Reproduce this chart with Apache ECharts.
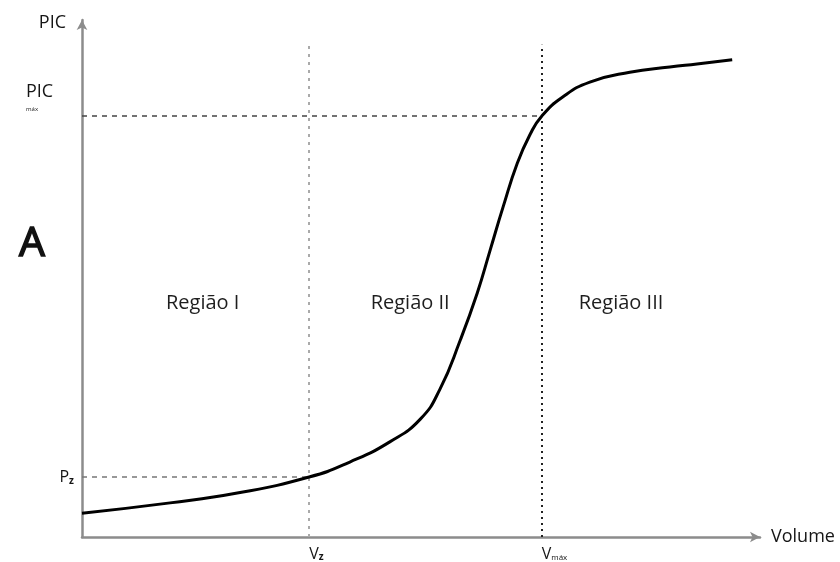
<!DOCTYPE html>
<html>
<head>
<meta charset="utf-8">
<script src="https://cdn.jsdelivr.net/npm/echarts@6/dist/echarts.min.js"></script>
<style>
  html, body { margin: 0; padding: 0; background: #fff; }
  #chart { width: 840px; height: 562px; }
</style>
</head>
<body>
<div id="chart"></div>
<script>
// Pressure-volume curve (PIC vs Volume), three regions
const volume = [0, 13.0, 22.9, 33.5, 39.5, 45.4, 49.9, 52.8, 55.8, 58.3, 60.2, 62.1, 64.2, 66.1, 67.8, 70.9, 74.9, 80.8, 86.7, 90.7, 95.9];
const pic    = [4.6, 6.6, 8.5, 11.6, 14.5, 18.4, 22.8, 28.6, 38.1, 47.2, 55.5, 63.8, 72.3, 77.9, 81.4, 85.1, 88.0, 89.9, 90.9, 91.5, 92.3];

// reference marks
const vZ = 33.5, vMax = 67.8;
const pZ = 11.6, picMax = 81.4;
const guideTop = 95.2;

// region captions
const regionNames = ['Região I', 'Região II', 'Região III'];
const regionX = [17.8, 48.4, 79.5];
const regionY = 45.3;

const FONT = '"Open Sans", "Liberation Sans", sans-serif';
const INK = '#151515';

const chart = echarts.init(document.getElementById('chart'));
chart.setOption({
  animation: false,
  backgroundColor: '#fff',
  title: {
    text: 'A', left: 14, top: 219,
    textStyle: { fontSize: 41, fontWeight: 'normal', color: '#111', fontFamily: FONT,
      textBorderColor: '#111', textBorderWidth: 1.5 }
  },
  grid: { left: 82, right: 80, top: 20, bottom: 25, containLabel: false },
  xAxis: {
    type: 'value', min: 0, max: 100,
    name: 'Volume', nameLocation: 'end', nameGap: 11,
    nameTextStyle: { fontSize: 18, color: INK, fontFamily: FONT },
    axisLine: { show: true, symbol: ['none', 'arrow'], symbolSize: [8, 10],
      lineStyle: { color: '#8c8c8c', width: 2.5 } },
    axisTick: { show: false },
    splitLine: { show: false },
    axisLabel: {
      customValues: [vZ, vMax], margin: 9, align: 'left',
      fontFamily: FONT, color: INK,
      formatter: v => v === vZ ? '{m|V}{s|z}' : '{m|V}{t|máx}',
      rich: {
        m: { fontSize: 16, color: INK, fontFamily: FONT },
        s: { fontSize: 10, color: INK, fontFamily: FONT, verticalAlign: 'bottom', fontWeight: 'bold' },
        t: { fontSize: 8, color: INK, fontFamily: FONT, verticalAlign: 'bottom' }
      }
    }
  },
  yAxis: {
    type: 'value', min: 0, max: 100,
    name: 'PIC', nameLocation: 'end', nameGap: -3,
    nameTextStyle: { fontSize: 18, color: INK, fontFamily: FONT, align: 'right', verticalAlign: 'middle', padding: [0, 16, 0, 0] },
    axisLine: { show: true, symbol: ['none', 'arrow'], symbolSize: [8, 10],
      lineStyle: { color: '#8c8c8c', width: 2.5 } },
    axisTick: { show: false },
    splitLine: { show: false },
    axisLabel: {
      customValues: [pZ, picMax], margin: 8,
      fontFamily: FONT, color: INK,
      formatter: v => v === pZ ? '{p|P}{z|z}' : '{a|PIC}\n{b|máx}\n{c| }',
      verticalAlign: 'middle',
      rich: {
        p: { fontSize: 16, color: INK, fontFamily: FONT, lineHeight: 18 },
        z: { fontSize: 10, color: INK, fontFamily: FONT, fontWeight: 'bold', verticalAlign: 'bottom', lineHeight: 18 },
        a: { fontSize: 18, color: INK, fontFamily: FONT, lineHeight: 26, width: 34, align: 'left', padding: [0, 14, 0, 0] },
        b: { fontSize: 6, color: INK, fontFamily: FONT, lineHeight: 8, width: 34, align: 'left', padding: [0, 14, 0, 0] },
        c: { fontSize: 6, lineHeight: 40 }
      }
    }
  },
  series: [
    {
      type: 'line',
      data: volume.map((v, i) => [v, pic[i]]),
      smooth: 0.5,
      symbol: 'none',
      lineStyle: { color: '#000', width: 3 },
      z: 5,
      markLine: {
        silent: true, symbol: ['none', 'none'], animation: false,
        label: { show: false },
        data: [
          [{ coord: [0, picMax], lineStyle: { color: '#444', width: 1.5, type: [5, 5] } }, { coord: [vMax, picMax] }],
          [{ coord: [0, pZ], lineStyle: { color: '#777', width: 1.5, type: [5, 5] } }, { coord: [vZ, pZ] }],
          [{ coord: [vZ, 0], lineStyle: { color: '#aaa', width: 2, type: [3, 5] } }, { coord: [vZ, guideTop] }],
          [{ coord: [vMax, 0], lineStyle: { color: '#222', width: 2, type: [2, 4] } }, { coord: [vMax, guideTop] }]
        ]
      }
    },
    {
      type: 'scatter',
      symbolSize: 0,
      silent: true,
      itemStyle: { opacity: 1 },
      data: regionNames.map((n, i) => ({ value: [regionX[i], regionY], name: n })),
      label: {
        show: true, position: 'inside', formatter: p => p.name,
        fontSize: 20, color: '#1e1e1e', opacity: 1, textBorderWidth: 0, fontFamily: FONT
      }
    }
  ]
});
</script>
</body>
</html>
